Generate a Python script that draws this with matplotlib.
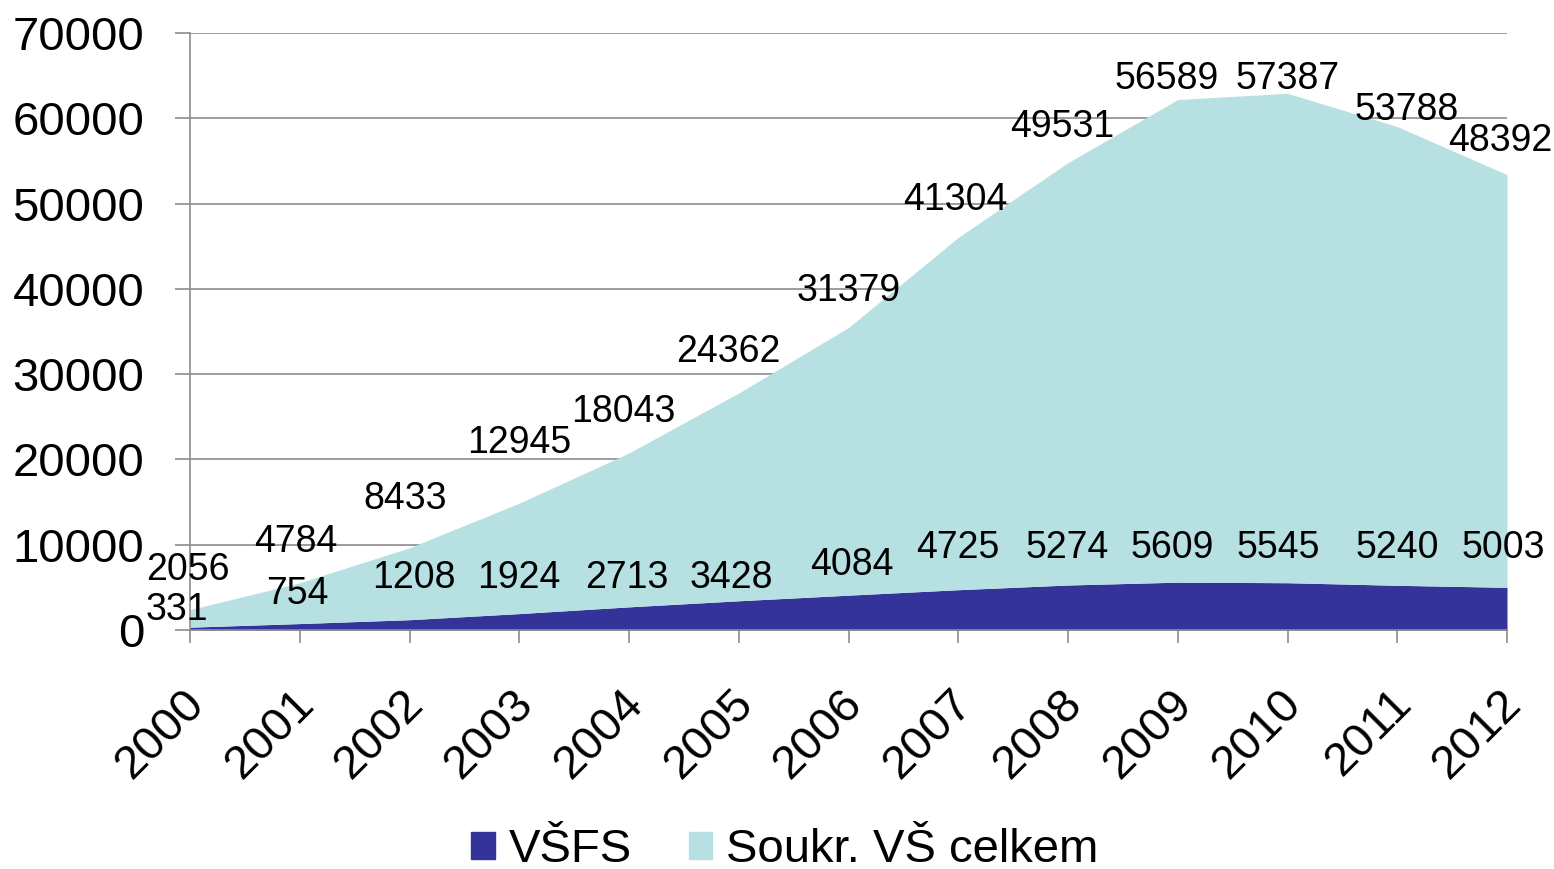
import matplotlib.pyplot as plt
from matplotlib.patches import Patch
from matplotlib.transforms import ScaledTranslation

plt.rcParams['font.family'] = ['Liberation Sans', 'DejaVu Sans']

# data
years = [2000, 2001, 2002, 2003, 2004, 2005, 2006, 2007, 2008, 2009, 2010, 2011, 2012]
vsfs = [331, 754, 1208, 1924, 2713, 3428, 4084, 4725, 5274, 5609, 5545, 5240, 5003]
soukr = [2056, 4784, 8433, 12945, 18043, 24362, 31379, 41304, 49531, 56589, 57387, 53788, 48392]
series_names = ["VŠFS", "Soukr. VŠ celkem"]

# label offsets in pixels (layout only)
soukr_off = [(-2, 40), (-4, 41), (-4, 49), (0, 60), (-6, 41), (-10, 41), (0, 37),
             (-3, 37), (-6, 36), (-11, 21), (0, 14), (9, 17), (-7, 34)]
vsfs_off = [(-13, 17), (-2, 30), (4, 42), (0, 36), (-2, 29), (-7, 23), (3, 30),
            (0, 42), (-1, 37), (-6, 34), (-9, 35), (0, 37), (-4, 39)]

C_VSFS = "#333399"
C_SOUKR = "#B7E0E3"

fig = plt.figure(figsize=(15.54, 8.69), dpi=100)
ax = fig.add_axes([190 / 1554, 1 - 630 / 869, (1507 - 190) / 1554, (630 - 33) / 869])

total = [a + b for a, b in zip(vsfs, soukr)]
ax.fill_between(years, 0, vsfs, color=C_VSFS, lw=0, zorder=2)
ax.fill_between(years, vsfs, total, color=C_SOUKR, lw=0, zorder=2)

ax.set_xlim(years[0], years[-1])
ax.set_ylim(0, 70000)
ax.set_yticks(range(0, 70001, 10000))
ax.set_xticks(years)
ax.yaxis.grid(True, color="#8c8c8c", lw=1.2, zorder=1)
ax.set_axisbelow(True)

for s in ["top", "right"]:
    ax.spines[s].set_visible(False)
for s in ["left", "bottom"]:
    ax.spines[s].set_color("#8c8c8c")
    ax.spines[s].set_linewidth(1.2)
    ax.spines[s].set_zorder(3)

ax.tick_params(axis="y", length=11, width=1.2, color="#8c8c8c", labelsize=34, pad=22)
ax.tick_params(axis="x", length=9, width=1.2, color="#8c8c8c", labelsize=34, pad=28)
ax.set_xticklabels([str(y) for y in years], rotation=45, ha="right", va="top",
                   rotation_mode="anchor")
shift = ScaledTranslation(-8 / 100, 0, fig.dpi_scale_trans)
for lab in ax.get_xticklabels():
    lab.set_transform(lab.get_transform() + shift)

for i, y in enumerate(years):
    ax.annotate(str(soukr[i]), xy=(y, total[i]), xytext=soukr_off[i],
                textcoords="offset pixels", ha="center", va="center",
                fontsize=27, zorder=5, annotation_clip=False)
    ax.annotate(str(vsfs[i]), xy=(y, vsfs[i]), xytext=vsfs_off[i],
                textcoords="offset pixels", ha="center", va="center",
                fontsize=27, zorder=5, annotation_clip=False)

handles = [Patch(color=C_VSFS), Patch(color=C_SOUKR)]
fig.legend(handles, series_names, loc="center", bbox_to_anchor=(785 / 1554, 1 - 850 / 869),
           ncol=2, frameon=False, fontsize=34, handlelength=0.5, handleheight=0.5,
           handletextpad=0.3, columnspacing=1.2)

fig.savefig("out.png", dpi=100)
